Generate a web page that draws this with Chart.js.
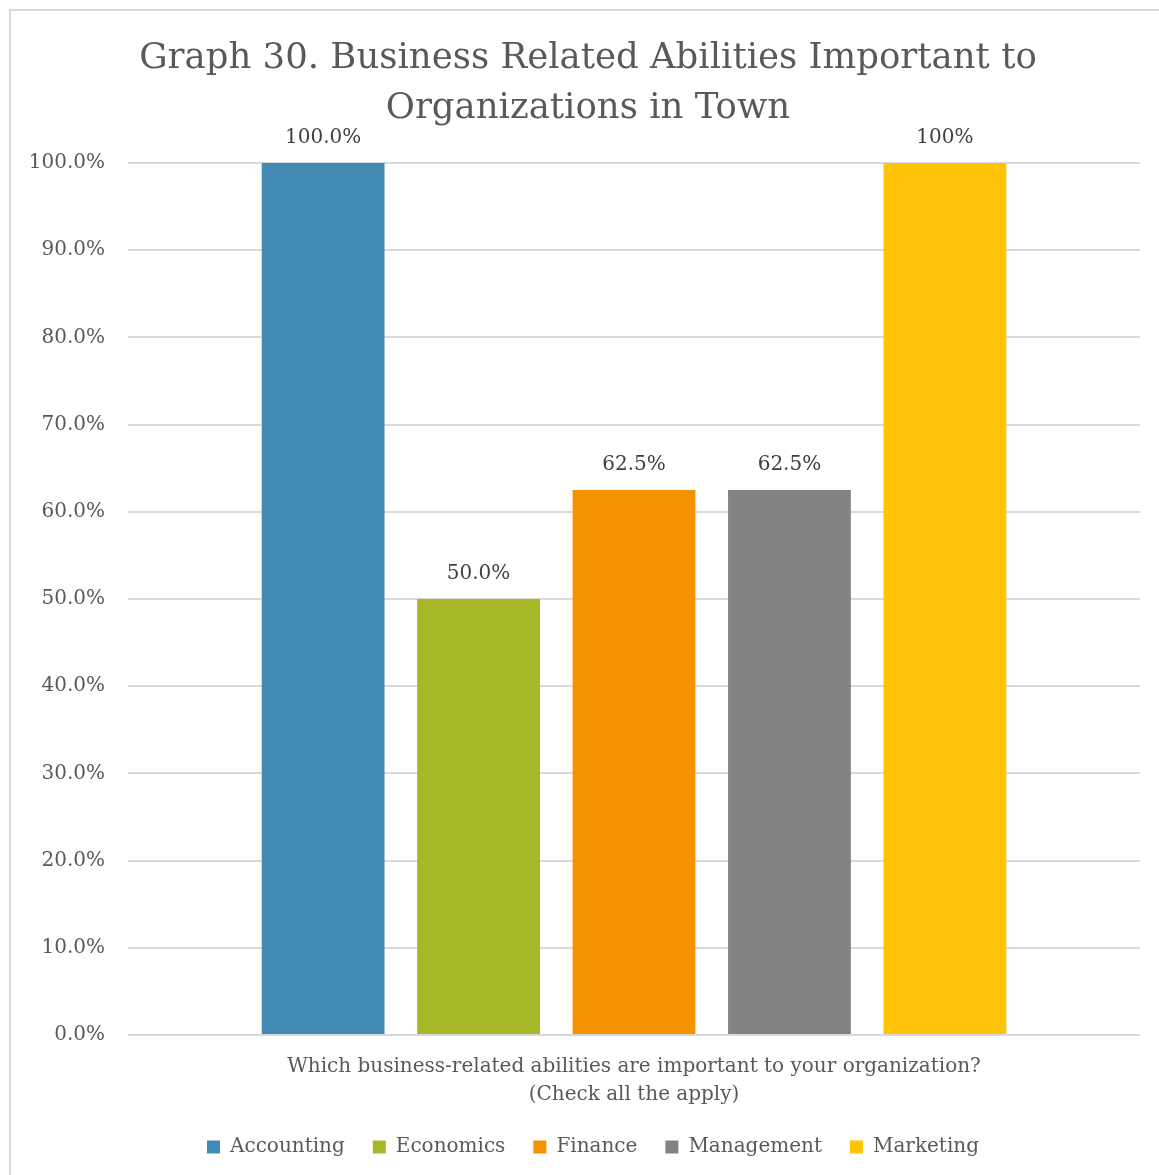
<!DOCTYPE html>
<html>
<head>
<meta charset="utf-8">
<script src="https://cdn.jsdelivr.net/npm/chart.js@4.4.1/dist/chart.umd.min.js"></script>
<style>
  html, body { margin: 0; padding: 0; background: #fff; }
  #frame {
    position: absolute; left: 9px; top: 9px;
    width: 1150px; height: 1166px;
    border-left: 2px solid #d9d9d9; border-top: 2px solid #d9d9d9;
    box-sizing: border-box;
  }
  #wrap { position: absolute; left: 10px; top: 10px; width: 1149px; height: 1165px; }
</style>
</head>
<body>
<div id="frame"></div>
<div id="wrap"><canvas id="chart"></canvas></div>
<script>
const FONT = "'DejaVu Serif', 'Liberation Serif', serif";

const question = ['Which business-related abilities are important to your organization?', '(Check all the apply)'];
const abilities = ['Accounting', 'Economics', 'Finance', 'Management', 'Marketing'];
const shares = [1.0, 0.5, 0.625, 0.625, 1.0];
const shareLabels = ['100.0%', '50.0%', '62.5%', '62.5%', '100%'];
const colors = ['#418AB3', '#A6B727', '#F59200', '#838383', '#FEC306'];

// value text above each bar
const barValues = {
  id: 'barValues',
  afterDatasetsDraw(chart) {
    const ctx = chart.ctx;
    ctx.save();
    ctx.font = '20px ' + FONT;
    ctx.fillStyle = '#404040';
    ctx.textAlign = 'center';
    ctx.textBaseline = 'middle';
    chart.data.datasets.forEach((ds, i) => {
      const bar = chart.getDatasetMeta(i).data[0];
      ctx.fillText(shareLabels[i], bar.x, bar.y - 25);
    });
    ctx.restore();
  }
};

// nudge title and legend so they centre over the bars rather than the canvas
const shiftBlocks = {
  id: 'shiftBlocks',
  afterLayout(chart) {
    chart.titleBlock.left += 13;
    chart.titleBlock.right += 13;
    chart.legend.left += 18;
    chart.legend.right += 18;
  }
};

const datasets = abilities.map((name, i) => ({
  label: name,
  data: [shares[i]],
  backgroundColor: colors[i],
  categoryPercentage: 0.768,
  barPercentage: 0.79,
}));

new Chart(document.getElementById('chart'), {
  type: 'bar',
  data: { labels: [question], datasets },
  plugins: [barValues, shiftBlocks],
  options: {
    responsive: true,
    maintainAspectRatio: false,
    animation: false,
    layout: { padding: { left: 0, right: 19, top: 0, bottom: 8 } },
    plugins: {
      title: {
        display: true,
        text: ['Graph 30. Business Related Abilities Important to', 'Organizations in Town'],
        color: '#595959',
        font: { family: FONT, size: 35.5, weight: 'normal', lineHeight: 1.408 },
        padding: { top: 24, bottom: 29 },
      },
      legend: {
        position: 'bottom',
        labels: {
          boxWidth: 13,
          boxHeight: 13,
          padding: 28,
          color: '#595959',
          font: { family: FONT, size: 20 },
        },
      },
      tooltip: { enabled: false },
    },
    scales: {
      x: {
        afterFit(scale) { scale.height = 74; },
        grid: { display: false, drawTicks: false },
        border: { display: false },
        ticks: {
          color: '#595959',
          padding: 18,
          font: { family: FONT, size: 20, lineHeight: 1.4 },
        },
      },
      y: {
        min: 0,
        max: 1,
        afterFit(scale) { scale.width = 118; },
        grid: { color: '#d9d9d9', lineWidth: 2, drawTicks: false },
        border: { display: false },
        ticks: {
          stepSize: 0.1,
          padding: 23,
          color: '#595959',
          font: { family: FONT, size: 20 },
          callback: v => (v * 100).toFixed(1) + '%',
        },
      },
    },
  },
});
</script>
</body>
</html>
